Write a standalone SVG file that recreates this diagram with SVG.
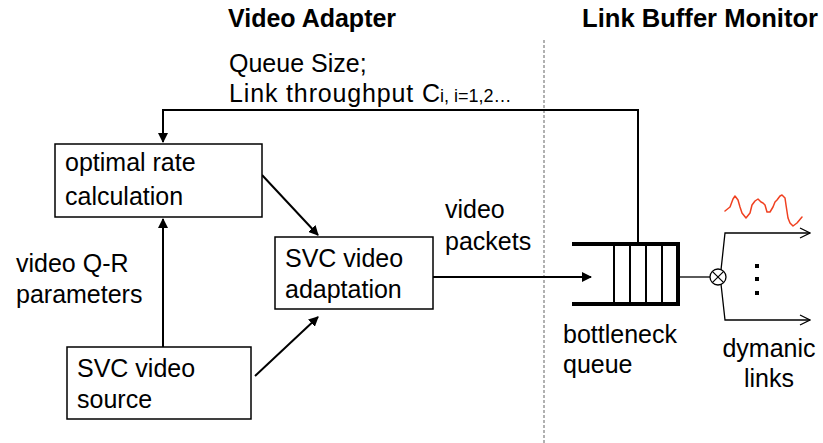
<svg xmlns="http://www.w3.org/2000/svg" width="823" height="443" viewBox="0 0 823 443">
<defs>
<style>
.t{font-family:"Liberation Sans",Arial,sans-serif;font-size:25px;fill:#000}
.s{font-family:"Liberation Sans",Arial,sans-serif;font-size:18px;fill:#000}
.h{font-family:"Liberation Sans",Arial,sans-serif;font-size:25px;font-weight:bold;fill:#000}
.box{fill:#fff;stroke:#000;stroke-width:1.5}
.c{fill:none;stroke:#000;stroke-width:2}
.thin{fill:none;stroke:#000;stroke-width:1.3}
</style>
<marker id="a" viewBox="0 0 10 10" refX="9" refY="5" markerWidth="5" markerHeight="5" orient="auto" markerUnits="strokeWidth">
<path d="M0,0 L10,5 L0,10 z" fill="#000"/>
</marker>
<marker id="o" viewBox="0 0 12 12" refX="11" refY="6" markerWidth="12" markerHeight="12" orient="auto" markerUnits="userSpaceOnUse">
<path d="M1,1 L11,6 L1,11" fill="none" stroke="#000" stroke-width="1.3"/>
</marker>
</defs>
<rect width="823" height="443" fill="#fff"/>
<text class="h" x="228" y="27">Video Adapter</text>
<text class="h" x="582" y="27" textLength="236" lengthAdjust="spacingAndGlyphs">Link Buffer Monitor</text>
<line x1="544" y1="40" x2="544" y2="443" stroke="#888" stroke-width="1.3" stroke-dasharray="3,2"/>
<text class="t" x="229" y="72">Queue Size;</text>
<text class="t" x="229" y="102" textLength="211" lengthAdjust="spacing">Link throughput C</text>
<text class="s" x="440" y="102">i, i=1,2…</text>
<g id="connectors">
<polyline class="c" points="638,244 638,110 163,110 163,142" marker-end="url(#a)"/>
<line class="c" x1="163" y1="347" x2="163" y2="219" marker-end="url(#a)"/>
<line class="c" x1="262" y1="175" x2="318" y2="235" marker-end="url(#a)"/>
<line class="c" x1="255" y1="376" x2="318" y2="317" marker-end="url(#a)"/>
<line class="c" x1="433" y1="277" x2="591" y2="277" marker-end="url(#a)"/>
<line class="thin" x1="678" y1="277" x2="710" y2="277"/>
<polyline class="thin" points="721,270 725,233 810,233" marker-end="url(#o)"/>
<polyline class="thin" points="721,284 725,320 810,320" marker-end="url(#o)"/>
</g>
<g id="rate">
<rect class="box" x="55" y="144" width="207" height="73"/>
<text class="t" x="65" y="171">optimal rate</text>
<text class="t" x="65" y="205">calculation</text>
</g>
<g id="adapt">
<rect class="box" x="275" y="237" width="158" height="72"/>
<text class="t" x="285" y="267">SVC video</text>
<text class="t" x="285" y="298">adaptation</text>
</g>
<g id="source">
<rect class="box" x="67" y="347" width="184" height="72"/>
<text class="t" x="77" y="377">SVC video</text>
<text class="t" x="77" y="408">source</text>
</g>
<text class="t" x="16" y="272">video Q-R</text>
<text class="t" x="16" y="303">parameters</text>
<text class="t" x="445" y="218">video</text>
<text class="t" x="445" y="250">packets</text>
<g id="queue">
<polyline fill="none" stroke="#000" stroke-width="4" points="572,244 678,244 678,304 572,304"/>
<g stroke="#000" stroke-width="2">
<line x1="614" y1="244" x2="614" y2="304"/>
<line x1="630" y1="244" x2="630" y2="304"/>
<line x1="646" y1="244" x2="646" y2="304"/>
<line x1="662" y1="244" x2="662" y2="304"/>
</g>
<text class="t" x="563" y="343">bottleneck</text>
<text class="t" x="563" y="373">queue</text>
</g>
<g id="mux">
<circle cx="718" cy="277" r="8" fill="#fff" stroke="#000" stroke-width="1.3"/>
<line x1="712.3" y1="271.3" x2="723.7" y2="282.7" stroke="#000" stroke-width="1.2"/>
<line x1="723.7" y1="271.3" x2="712.3" y2="282.7" stroke="#000" stroke-width="1.2"/>
</g>
<g id="links">
<rect x="755" y="264" width="4" height="4" fill="#000"/>
<rect x="755" y="277" width="4" height="4" fill="#000"/>
<rect x="755" y="291" width="4" height="4" fill="#000"/>
<polyline points="725,211 730,207 733,199 735,196 738,200 740,207 742,213 746,218 750,213 752,205 755,201 758,199 761,202 763,203 765,205 767,212 770,212 773,207 775,202 777,200 780,196 782,195 785,198 786,205 788,218 790,223 793,226 797,223 802,217" fill="none" stroke="#f04020" stroke-width="1.5" stroke-linejoin="round" stroke-linecap="round"/>
<text class="t" x="769" y="357" text-anchor="middle">dymanic</text>
<text class="t" x="769" y="387" text-anchor="middle">links</text>
</g>
</svg>
